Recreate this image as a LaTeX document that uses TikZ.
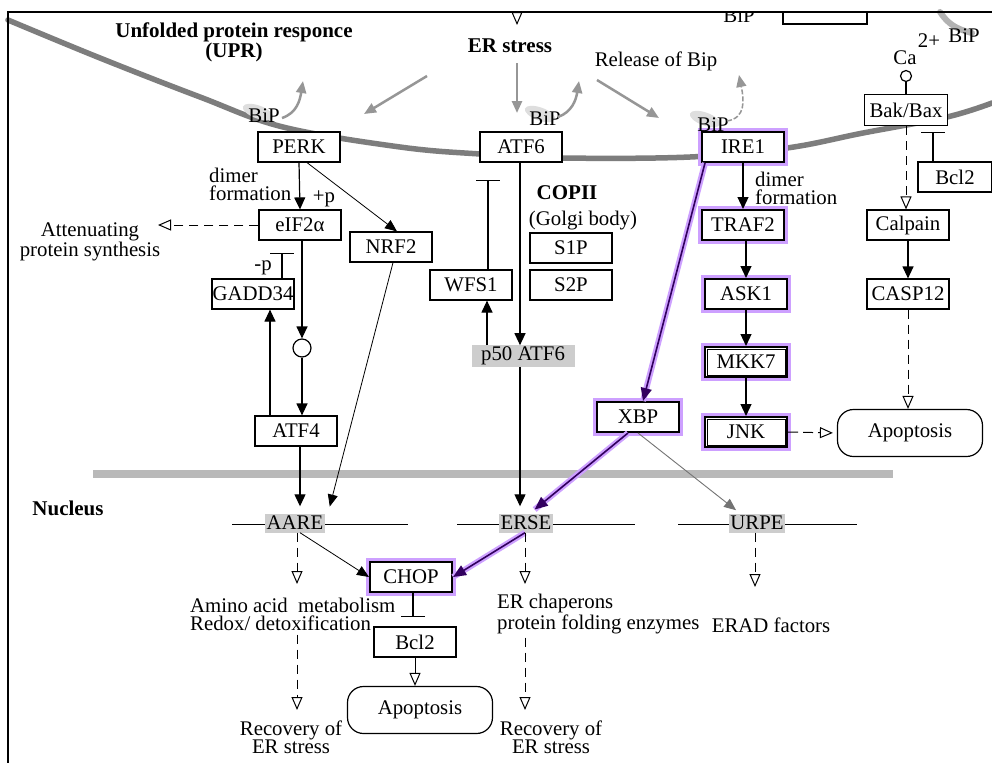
\documentclass[tikz,border=0pt]{standalone}
\usepackage{fontspec}
\setmainfont{Liberation Serif}
\usetikzlibrary{arrows.meta,shapes.geometric}
\definecolor{glow}{RGB}{205,160,255}
\definecolor{pcore}{RGB}{50,0,95}
\definecolor{memb}{RGB}{125,125,125}
\definecolor{nucb}{RGB}{185,185,185}
\definecolor{garr}{RGB}{150,150,150}
\definecolor{gfill}{RGB}{205,205,205}
\definecolor{blob}{RGB}{222,222,222}
\newcommand\fsz{\fontsize{20.8}{18.2}\selectfont}
\newcommand\fbz{\fontsize{21}{18.2}\selectfont\bfseries}
\begin{document}
\begin{tikzpicture}[x=1pt,y=-1pt,
  font=\fsz,
  box/.style={draw, line width=1.2, fill=white, minimum width=82, minimum height=30, inner sep=0},
  hl/.style={box, line width=2, preaction={draw=glow, line width=8}},
  gbox/.style={fill=gfill, inner sep=1.5, minimum height=19},
  apo/.style={draw, line width=1.2, rounded corners=16, minimum width=145, minimum height=47, fill=white},
  arr/.style={line width=1.2, -{Triangle[length=12,width=11]}},
  arrt/.style={line width=0.8, -{Triangle[length=12,width=10]}},
  oarr/.style={line width=1, dash pattern=on 9 off 6, -{Triangle[open,length=13,width=11]}},
  osol/.style={line width=1, -{Triangle[open,length=13,width=11]}},
  inh/.style={line width=1.2, -{Bar[width=24,line width=1.2]}},
  parr/.style={line width=1.6, draw=pcore, preaction={draw=glow, line width=6, -}, -{Triangle[length=13,width=11]}},
  garrow/.style={draw=garr, line width=2.5, -{Triangle[length=12,width=10]}},
  txt/.style={inner sep=0, align=center},
  bipblob/.style={ellipse, fill=blob, minimum width=32, minimum height=13, inner sep=0},
]
\useasboundingbox (0,0) rectangle (992,763);
\fill[white] (0,0) rectangle (992,763);

% ---- membranes ----
\draw[memb, line width=5.5, line cap=round] plot[smooth, tension=0.6] coordinates
  {(8,20) (100,58) (200,97) (283,127) (400,147) (480,154) (563,158) (690,157) (787,148) (863,133) (947,117) (992,103)};
\draw[black!30, line width=6, line cap=round] (940,12) .. controls (948,24) and (956,29) .. (972,33);
\draw[nucb, line width=8] (93,474) -- (893,474);

% ---- BiP highlights ----
\node[bipblob, rotate=-20] (blob1) at (258,112) {};
\node[bipblob, rotate=-20] (blob2) at (540,114) {};
\node[bipblob, rotate=-20] (blob3) at (705,119) {};

% ---- nuclear response element lines ----
\coordinate (al) at (232,524); \coordinate (ar) at (408,524);
\coordinate (el) at (457,524); \coordinate (er) at (635,524);
\coordinate (ul) at (678,524); \coordinate (ur) at (857,524);
\draw[line width=1] (al) -- (ar);
\draw[line width=1] (el) -- (er);
\draw[line width=1] (ul) -- (ur);

% ---- nodes ----
\node[box] (perk) at (299,147) {PERK};
\node[box] (atf6) at (521,147) {ATF6};
\node[hl] (ire1) at (743,147) {IRE1};
\node[box, minimum width=83, minimum height=31] (bakbax) at (906,110) {Bak/Bax};
\node[box, minimum width=74] (bcl2a) at (955,177) {Bcl2};
\node[hl] (traf2) at (743,225) {TRAF2};
\node[box] (calpain) at (908,225) {\raisebox{-4pt}{Calpain}};
\node[box] (eif2a) at (300,225) {eIF2α};
\node[box] (nrf2) at (391,247) {NRF2};
\node[box] (s1p) at (571,248) {S1P};
\node[box] (s2p) at (571,285) {S2P};
\node[box] (wfs1) at (471,285) {WFS1};
\node[box] (gadd34) at (253,294) {GADD34};
\node[hl] (ask1) at (746,294) {ASK1};
\node[box] (casp12) at (908,294) {CASP12};
\node[hl] (mkk7) at (746,362) {MKK7};
\node[gbox, minimum width=103] (p50) at (523,356) {p50 ATF6};
\node[hl] (xbp) at (638,417) {XBP};
\node[hl] (jnk) at (746,432) {JNK};
\node[apo] (apo1) at (910,433) {Apoptosis};
\node[box] (atf4) at (296,431) {ATF4};
\node[gbox] (aare) at (295,523) {AARE};
\node[gbox] (erse) at (526,523) {ERSE};
\node[gbox] (urpe) at (757,523) {URPE};
\node[hl] (chop) at (411,577) {CHOP};
\node[box] (bcl2b) at (415,642) {Bcl2};
\node[apo] (apo2) at (420,710) {Apoptosis};
\node[circle, draw, line width=1.2, minimum size=18, inner sep=0, fill=white] (circ) at (302,348) {};
\node[circle, draw, line width=1.2, minimum size=11, inner sep=0, fill=white] (cacirc) at (906,76) {};

\draw[line width=0.8] ([shift={(3,3)}]mkk7.north west) rectangle ([shift={(-3,-3)}]mkk7.south east);
\draw[line width=0.8] ([shift={(3,3)}]jnk.north west) rectangle ([shift={(-3,-3)}]jnk.south east);

% ---- text labels ----
\node[txt, font=\fbz] (title) at (234,42) {Unfolded protein responce\\(UPR)};
\node[txt, font=\fbz] (erst) at (510,46) {ER stress};
\node[txt] (rel) at (656,61) {Release of Bip};
\node[txt] (ca) at (905,58) {Ca};
\node[txt] (two) at (929,41) {2+};
\node[txt] (bipca) at (964,36) {BiP};
\node[txt] (bip1) at (264,116) {BiP};
\node[txt] (bip2) at (545,119) {BiP};
\node[txt] (bip3) at (713,125) {BiP};
\node[txt, align=left, anchor=west] (dim1) at (209,184) {dimer\\formation};
\node[txt] (pp) at (324,199) {+p};
\node[txt] (att) at (90,242) {Attenuating\\protein synthesis};
\node[txt] (mp) at (263,268) {-p};
\node[txt, font=\fbz] (copii) at (567,193) {COPII};
\node[txt] (golgi) at (583,221) {(Golgi body)};
\node[txt, align=left, anchor=west] (dim2) at (755,188) {dimer\\formation};
\node[txt, font=\fbz] (nuc) at (68,508) {Nucleus};
\node[txt, align=left, anchor=west] (amino) at (190,614) {Amino acid\ \ metabolism\\Redox/ detoxification};
\node[txt, align=left, anchor=west] (erch) at (497,614) {ER chaperons\\protein folding enzymes};
\node[txt] (erad) at (771,625) {ERAD factors};
\node[txt] (rec1) at (291,737) {Recovery of\\ER stress};
\node[txt] (rec2) at (551,737) {Recovery of\\ER stress};

% ---- clipped items at the top edge ----
\begin{scope}
  \clip (8,13) rectangle (992,763);
  \node[txt] (bipclip) at (739,16) {BiP};
  \draw[line width=1.2] (783,2) rectangle (867,24);
  \coordinate (ertopa) at (517,-6);
  \coordinate (ertopb) at (517,25);
  \draw[osol] (ertopa) -- (ertopb);
\end{scope}

% ---- gray arrows near the ER membrane ----
\coordinate (b1s) at (282,118); \coordinate (b1e) at (303,81);
\coordinate (g2s) at (427,76);  \coordinate (g2e) at (364,114);
\coordinate (g3s) at (517,63);  \coordinate (g3e) at (517,113);
\coordinate (b2s) at (558,117); \coordinate (b2e) at (579,81);
\coordinate (g5s) at (597,80);  \coordinate (g5e) at (659,118);
\coordinate (b3s) at (727,121); \coordinate (b3e) at (739,75);
\draw[garrow] (b1s) .. controls (297,113) and (300,100) .. (b1e);
\draw[garrow] (g2s) -- (g2e);
\draw[garrow] (g3s) -- (g3e);
\draw[garrow] (b2s) .. controls (572,112) and (576,100) .. (b2e);
\draw[garrow] (g5s) -- (g5e);
\draw[garrow, line width=1.5, dash pattern=on 5 off 2] (b3s) .. controls (746,118) and (744,100) .. (b3e);

% ---- PERK branch ----
\coordinate (atip) at (158,225);
\coordinate (pbar) at (282,253);
\draw[arr] (perk.south) -- (eif2a.north);
\draw[arrt] ([xshift=8]perk.south) -- ([xshift=6]nrf2.north);
\draw[oarr] (eif2a.west) -- (atip);
\draw[arr] ([xshift=2]eif2a.south) -- (circ.north);
\draw[arr] (circ.south) -- ([xshift=6]atf4.north);
\draw[inh] ([xshift=29]gadd34.north) -- (pbar);
\draw[arr] ([xshift=-26]atf4.north) -- ([xshift=17]gadd34.south);
\draw[arr, shorten >=7] ([xshift=4]atf4.south) -- ([xshift=5]aare.north);
\draw[arrt, shorten >=7] ([xshift=2]nrf2.south) -- ([xshift=33]aare.north);

% ---- ATF6 branch ----
\coordinate (wbar) at (488,180);
\draw[arr] ([xshift=-1]atf6.south) -- ([xshift=-3]p50.north);
\draw[line width=1.2] ([xshift=-3]p50.south) -- ([xshift=-6,yshift=12]erse.north);
\draw[arr] ([xshift=-6,yshift=12]erse.north) -- ([xshift=-6,yshift=7]erse.north);
\draw[arr] ([xshift=-36]p50.north) -- ([xshift=16]wfs1.south);
\draw[inh] ([xshift=17]wfs1.north) -- (wbar);

% ---- IRE1 branch ----
\draw[arr] (ire1.south) -- (traf2.north);
\draw[arr] ([xshift=3]traf2.south) -- (ask1.north);
\draw[arr] (ask1.south) -- (mkk7.north);
\draw[arr] (mkk7.south) -- (jnk.north);
\draw[oarr, dash pattern=on 10 off 5, shorten >=4] (jnk.east) -- (apo1.west);
\draw[parr] ([xshift=-38]ire1.south) -- ([xshift=5]xbp.north);
\draw[parr, shorten >=6] ([xshift=-10]xbp.south) -- ([xshift=4]erse.north);
\draw[line width=0.9, draw=black!55, -{Triangle[length=12,width=10]}, shorten >=5] (xbp.south) -- ([xshift=-17]urpe.north);
\draw[parr] ([xshift=-1]erse.south) -- (chop.east);
\draw[arrt] ([xshift=5]aare.south) -- (chop.west);

% ---- Bak/Bax branch ----
\coordinate (bbar) at (933,132);
\draw[line width=1.2] (cacirc.south) -- (bakbax.north);
\draw[oarr] (bakbax.south) -- ([xshift=-2]calpain.north);
\draw[inh] ([xshift=-22]bcl2a.north) -- (bbar);
\draw[arr] (calpain.south) -- (casp12.north);
\draw[oarr] (casp12.south) -- (apo1.north -| casp12.south);

% ---- nuclear outputs ----
\coordinate (a1) at (297,584); \coordinate (a2) at (297,710);
\coordinate (e1) at (525,584); \coordinate (e2) at (525,710);
\coordinate (u1) at (755,587);
\draw[oarr] (aare.south -| a1) -- (a1);
\draw[oarr] ([yshift=-4]amino.south -| a2) -- (a2);
\draw[oarr] (erse.south -| e1) -- (e1);
\draw[oarr] ([yshift=-4]erch.south -| e2) -- (e2);
\draw[oarr] (urpe.south -| u1) -- (u1);
\draw[inh] ([xshift=2]chop.south) -- ([xshift=-2,yshift=9]bcl2b.north);
\draw[osol] (bcl2b.south) -- (apo2.north -| bcl2b.south);

% ---- frame ----
\draw[line width=2] (992,12) -- (8,12) -- (8,763);
\end{tikzpicture}
\end{document}
